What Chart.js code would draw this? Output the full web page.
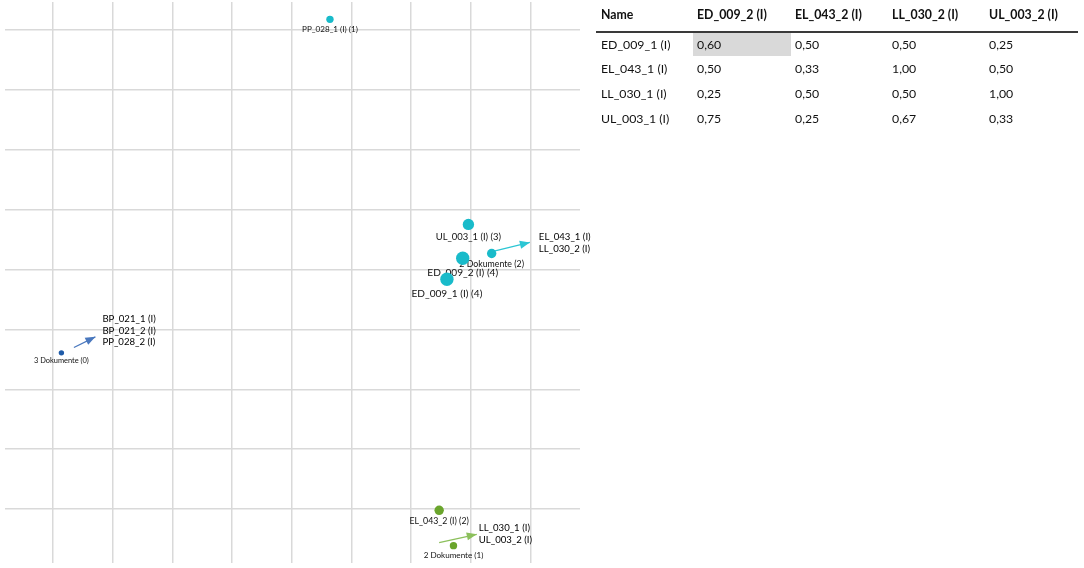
<!DOCTYPE html>
<html><head><meta charset="utf-8">
<script src="https://cdn.jsdelivr.net/npm/chart.js@4.4.1/dist/chart.umd.min.js"></script>
<style>
html,body{margin:0;padding:0;background:#fff;width:1084px;height:568px;overflow:hidden;font-family:Lato,sans-serif;}
#chartBox{position:absolute;left:0;top:0;width:594px;height:568px;}
#tbl{position:absolute;left:0;top:0;width:1084px;height:568px;}
.cell{position:absolute;font-size:12.3px;color:#111;white-space:nowrap;box-sizing:border-box;padding-left:4px;}
.hd{font-weight:bold;}
</style></head><body>
<div id="chartBox"><canvas id="c"></canvas></div>
<div id="tbl"></div>
<script>
// ---- data ----
const pointNames  = ["PP_028_1 (I)", "UL_003_1 (I)", "2 Dokumente", "ED_009_2 (I)", "ED_009_1 (I)", "3 Dokumente", "EL_043_2 (I)", "2 Dokumente"];
const pointCounts = [1, 3, 2, 4, 4, 0, 2, 1];
const pointX      = [4.64, 6.96, 7.35, 6.865, 6.60, 0.14, 6.47, 6.71];
const pointY      = [8.18, 4.755, 4.27, 4.19, 3.84, 2.61, -0.02, -0.61];
const pointGroup  = [0, 0, 0, 0, 0, 1, 2, 2];

const arrowFromX = [7.39, 0.35, 6.47];
const arrowFromY = [4.31, 2.70, -0.56];
const arrowToX   = [7.99, 0.71, 7.10];
const arrowToY   = [4.455, 2.877, -0.42];
const arrowGroup = [0, 1, 2];
const arrowLabels = [
  ["EL_043_1 (I)", "LL_030_2 (I)"],
  ["BP_021_1 (I)", "BP_021_2 (I)", "PP_028_2 (I)"],
  ["LL_030_1 (I)", "UL_003_2 (I)"]
];

const gridTicksX = [0, 1, 2, 3, 4, 5, 6, 7, 8];
const gridTicksY = [0, 1, 2, 3, 4, 5, 6, 7, 8];

const tableColumns = ["Name", "ED_009_2 (I)", "EL_043_2 (I)", "LL_030_2 (I)", "UL_003_2 (I)"];
const tableRows = ["ED_009_1 (I)", "EL_043_1 (I)", "LL_030_1 (I)", "UL_003_1 (I)"];
const tableValues = [
  [0.60, 0.50, 0.50, 0.25],
  [0.50, 0.33, 1.00, 0.50],
  [0.25, 0.50, 0.50, 1.00],
  [0.75, 0.25, 0.67, 0.33]
];
const highlightedCell = [0, 0];

// ---- styles ----
const groupColors = ['#19bbca', '#1f5ba8', '#6aa52c'];
const arrowColors = ['#2cc6d4', '#4a78be', '#8cc05c'];
const arrowLabelOffsets = [{dx: 9, dy: -5}, {dx: 7, dy: -17.7}, {dx: 2, dy: -6}];
const arrowLabelLine = 11.4;
const labelFont = 'Lato, sans-serif';
const radiusOf = c => 2.7 + 1.0 * c;
const calSize = c => 8.1 + 0.72 * c;
const fontOf = c => calSize(c) * 0.92;

// ---- datasets ----
const datasets = [];
groupColors.forEach((col, g) => {
  const d = [];
  pointX.forEach((x, i) => { if (pointGroup[i] === g) d.push({x: x, y: pointY[i], r: radiusOf(pointCounts[i])}); });
  datasets.push({type: 'bubble', data: d, backgroundColor: col, borderColor: col, borderWidth: 0, hoverRadius: 0, order: 1});
});
arrowFromX.forEach((x, i) => {
  datasets.push({type: 'line', data: [{x: x, y: arrowFromY[i]}, {x: arrowToX[i], y: arrowToY[i]}],
    borderColor: arrowColors[arrowGroup[i]], borderWidth: 1.3, pointRadius: 0, fill: false, order: 2});
});

const labelsPlugin = {
  id: 'pointLabels',
  beforeDatasetsDraw(chart) {
    const ctx = chart.ctx, xs = chart.scales.x, ys = chart.scales.y;
    ctx.save();
    ctx.textAlign = 'center';
    ctx.textBaseline = 'middle';
    ctx.fillStyle = '#111';
    pointNames.forEach((n, i) => {
      const px = xs.getPixelForValue(pointX[i]);
      const py = ys.getPixelForValue(pointY[i]);
      const fs = fontOf(pointCounts[i]);
      ctx.font = fs.toFixed(2) + 'px ' + labelFont;
      ctx.fillText(n + ' (' + pointCounts[i] + ')', px, py + radiusOf(pointCounts[i]) + 0.68 * calSize(pointCounts[i]));
    });
    ctx.restore();
  },
  afterDatasetsDraw(chart) {
    const ctx = chart.ctx, xs = chart.scales.x, ys = chart.scales.y;
    ctx.save();
    arrowFromX.forEach((x, i) => {
      const x0 = xs.getPixelForValue(x), y0 = ys.getPixelForValue(arrowFromY[i]);
      const x1 = xs.getPixelForValue(arrowToX[i]), y1 = ys.getPixelForValue(arrowToY[i]);
      const a = Math.atan2(y1 - y0, x1 - x0);
      const L = 10, W = 4;
      ctx.fillStyle = arrowColors[arrowGroup[i]];
      ctx.beginPath();
      ctx.moveTo(x1, y1);
      ctx.lineTo(x1 - L * Math.cos(a) + W * Math.sin(a), y1 - L * Math.sin(a) - W * Math.cos(a));
      ctx.lineTo(x1 - L * Math.cos(a) - W * Math.sin(a), y1 - L * Math.sin(a) + W * Math.cos(a));
      ctx.closePath();
      ctx.fill();
      ctx.fillStyle = '#000';
      ctx.font = '9.6px ' + labelFont;
      ctx.textAlign = 'left';
      ctx.textBaseline = 'middle';
      const o = arrowLabelOffsets[i];
      arrowLabels[i].forEach((t, k) => ctx.fillText(t, x1 + o.dx, y1 + o.dy + k * arrowLabelLine));
    });
    ctx.restore();
  }
};

const gridOpts = {color: '#d9d9d9', lineWidth: 1.5, drawTicks: false};
new Chart(document.getElementById('c'), {
  type: 'bubble',
  data: {datasets: datasets},
  options: {
    responsive: true, maintainAspectRatio: false, animation: false,
    layout: {autoPadding: false, padding: {left: 5.3, right: 14, top: 2, bottom: 5}},
    plugins: {legend: {display: false}, tooltip: {enabled: false}},
    events: [],
    scales: {
      x: {type: 'linear', min: -0.80, max: 8.83, grid: gridOpts, border: {display: false},
          ticks: {display: false}, afterBuildTicks: s => { s.ticks = gridTicksX.map(v => ({value: v})); }},
      y: {type: 'linear', min: -0.90, max: 8.47, grid: gridOpts, border: {display: false},
          ticks: {display: false}, afterBuildTicks: s => { s.ticks = gridTicksY.map(v => ({value: v})); }}
    }
  },
  plugins: [labelsPlugin]
});

// ---- table ----
const colLeft = [597, 693, 791, 888, 985];
const colWidth = [96, 98, 97, 97, 93];
const tbl = document.getElementById('tbl');
function cell(text, l, t, w, h, cls, bg) {
  const d = document.createElement('div');
  d.className = 'cell ' + (cls || '');
  d.style.left = l + 'px'; d.style.top = t + 'px';
  d.style.width = w + 'px'; d.style.height = h + 'px'; d.style.lineHeight = h + 'px';
  if (bg) d.style.background = bg;
  d.textContent = text;
  tbl.appendChild(d);
}
tableColumns.forEach((c, j) => cell(c, colLeft[j], 0, colWidth[j], 30, 'hd'));
const line = document.createElement('div');
line.style.cssText = 'position:absolute;left:596px;top:30.7px;width:482px;height:2px;background:#3a3a3a;';
tbl.appendChild(line);
const fmt = v => v.toFixed(2).replace('.', ',');
tableRows.forEach((r, i) => {
  const top = 32.5 + i * 24.8;
  cell(r, colLeft[0], top, colWidth[0], 23);
  tableValues[i].forEach((v, j) => {
    const hl = (highlightedCell[0] === i && highlightedCell[1] === j) ? '#d9d9d9' : null;
    cell(fmt(v), colLeft[j + 1], top, colWidth[j + 1], 23, '', hl);
  });
});
</script>
</body></html>
